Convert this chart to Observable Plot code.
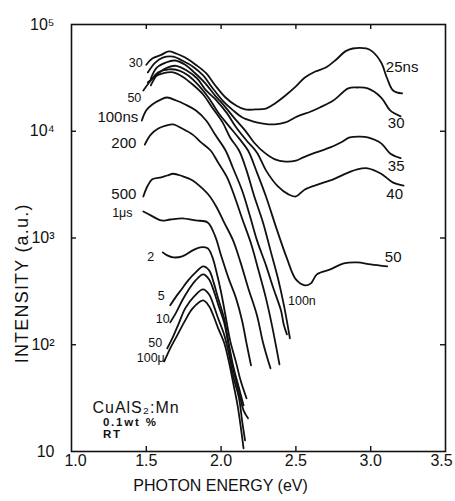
<!DOCTYPE html>
<html><head><meta charset="utf-8">
<script src="https://cdn.jsdelivr.net/npm/d3@7"></script>
<script src="https://cdn.jsdelivr.net/npm/@observablehq/plot@0.6"></script>
<style>
html,body{margin:0;padding:0;background:#fff;}
#chart{width:455px;height:501px;overflow:hidden;}
</style></head><body><div id="chart"></div>
<script>
// ---- data: photon energy (eV) and intensity (a.u.) ----
const e25ns = [1.50,1.54,1.60,1.65,1.70,1.76,1.83,1.90,1.96,2.03,2.10,2.16,2.23,2.30,2.36,2.43,2.50,2.56,2.63,2.70,2.77,2.83,2.88,2.97,3.01,3.07,3.11,3.15,3.21];
const i25ns = [4.2e4,4.8e4,5.2e4,5.6e4,5.35e4,4.9e4,4.2e4,3.5e4,2.7e4,2.07e4,1.74e4,1.6e4,1.6e4,1.63e4,1.82e4,2.16e4,2.63e4,3.19e4,3.63e4,3.95e4,4.7e4,5.6e4,5.96e4,5.96e4,5.6e4,4.4e4,3.12e4,2.41e4,2.26e4];

const e30ns = [1.51,1.56,1.61,1.68,1.74,1.81,1.88,1.94,2.01,2.08,2.14,2.21,2.28,2.36,2.43,2.51,2.60,2.66,2.75,2.85,2.91,2.98,3.07,3.13,3.20];
const i30ns = [3.56e4,4.4e4,4.9e4,5.0e4,4.6e4,4.05e4,3.33e4,2.57e4,1.94e4,1.57e4,1.35e4,1.24e4,1.18e4,1.16e4,1.21e4,1.38e4,1.53e4,1.67e4,1.94e4,2.52e4,2.57e4,2.52e4,2.07e4,1.57e4,1.38e4];

const e35ns = [1.53,1.57,1.63,1.69,1.76,1.82,1.89,1.96,2.02,2.09,2.16,2.22,2.29,2.36,2.43,2.50,2.55,2.63,2.73,2.80,2.86,2.93,2.98,3.07,3.13,3.20];
const i35ns = [3.12e4,3.95e4,4.4e4,4.6e4,4.2e4,3.56e4,2.86e4,2.16e4,1.74e4,1.32e4,1.02e4,7.85e3,6.3e3,5.45e3,5.2e3,5.3e3,5.7e3,6.3e3,7.05e3,7.85e3,8.75e3,8.9e3,8.75e3,7.7e3,6.2e3,5.6e3];

const e40ns = [1.53,1.58,1.64,1.70,1.77,1.84,1.90,1.97,2.04,2.10,2.17,2.24,2.30,2.38,2.45,2.50,2.56,2.65,2.73,2.85,2.91,2.98,3.07,3.15,3.22];
const i40ns = [2.69e4,3.48e4,3.95e4,4.1e4,3.7e4,3.12e4,2.41e4,1.94e4,1.47e4,1.09e4,8.2e3,6.3e3,4.3e3,3.04e3,2.56e3,2.45e3,2.85e3,3.18e3,3.46e3,4.1e3,4.4e3,4.5e3,4.0e3,3.3e3,3.1e3];

const e50ns = [1.48,1.53,1.58,1.65,1.72,1.78,1.85,1.92,1.98,2.05,2.12,2.18,2.24,2.30,2.37,2.44,2.50,2.56,2.60,2.64,2.73,2.82,2.91,3.00,3.11];
const i50ns = [2.41e4,2.99e4,3.56e4,3.8e4,3.7e4,3.33e4,2.69e4,2.03e4,1.5e4,1.13e4,8.57e3,6.6e3,4.1e3,2.45e3,1.23e3,644,409,360,376,456,508,578,591,566,542];

const eUnlabeled = [1.51,1.56,1.61,1.68,1.74,1.81,1.88,1.94,2.01,2.06,2.12,2.17,2.22,2.28,2.33,2.38,2.42,2.46];
const iUnlabeled = [2.86e4,3.26e4,3.48e4,3.56e4,3.26e4,2.74e4,2.21e4,1.67e4,1.21e4,8.75e3,6.6e3,4.3e3,2.5e3,1.4e3,766,419,234,115];

const e100ns = [1.47,1.50,1.54,1.60,1.64,1.70,1.76,1.83,1.90,1.96,2.03,2.08,2.14,2.19,2.24,2.30,2.35,2.40,2.42,2.44];
const i100ns = [1.26e4,1.57e4,1.78e4,1.99e4,2.07e4,1.94e4,1.78e4,1.57e4,1.26e4,9.3e3,6.6e3,4.5e3,2.8e3,1.66e3,950,554,337,210,152,125];

const e200ns = [1.49,1.53,1.58,1.63,1.68,1.74,1.81,1.86,1.93,1.98,2.04,2.09,2.14,2.20,2.25,2.30,2.34,2.37,2.39];
const i200ns = [7.5e3,9.3e3,1.06e4,1.13e4,1.16e4,1.06e4,9.3e3,8.0e3,6.6e3,5.1e3,3.7e3,2.45e3,1.53e3,889,498,272,152,92.5,65.5];

const e500ns = [1.48,1.51,1.54,1.60,1.64,1.68,1.74,1.81,1.86,1.92,1.97,2.02,2.08,2.13,2.18,2.24,2.28,2.33];
const i500ns = [2.45e3,3.1e3,3.55e3,3.7e3,3.85e3,4.0e3,3.8e3,3.46e3,3.04e3,2.5e3,1.94e3,1.4e3,950,591,344,188,105,60.1];

const e1us = [1.48,1.53,1.60,1.66,1.74,1.83,1.91,1.96,2.00,2.05,2.10,2.14,2.17,2.20];
const i1us = [1.77e3,1.63e3,1.46e3,1.49e3,1.53e3,1.46e3,1.40e3,1.04e3,687,419,272,169,103,64.1];

const e2us = [1.61,1.64,1.68,1.74,1.81,1.86,1.91,1.94,1.97,2.00,2.03,2.06,2.10,2.13,2.17];
const i2us = [733,687,658,673,766,817,800,673,476,310,185,110,68.4,46.4,31.5];

const e5us = [1.66,1.70,1.74,1.78,1.83,1.88,1.92,1.95,1.98,2.02,2.05,2.08,2.12,2.15];
const i5us = [234,284,337,401,476,542,498,384,272,177,105,64.1,39.1,27.1];

const e10us = [1.66,1.70,1.74,1.78,1.83,1.88,1.92,1.95,1.98,2.02,2.05,2.08,2.12,2.15,2.18];
const i10us = [162,201,260,323,401,456,409,323,239,162,98.6,60.1,35.8,24.3,20.5];

const e50us = [1.64,1.68,1.72,1.76,1.82,1.88,1.92,1.95,1.98,2.02,2.05,2.08,2.12,2.14,2.16];
const i50us = [92.5,120,162,219,284,330,296,234,177,125,84.9,51.6,31.5,19.6,12.7];

const e100us = [1.62,1.66,1.71,1.76,1.81,1.88,1.92,1.95,1.98,2.02,2.05,2.08,2.11,2.13,2.15];
const i100us = [69.8,92.5,125,169,219,260,229,185,143,105,71.4,44.5,27.1,17.6,10.7];

// curve labels (text, energy, intensity)
const bigLabelText   = ["25ns","30","35","40","50","100ns","200","500"];
const bigLabelEnergy = [3.21,3.17,3.17,3.16,3.15,1.31,1.35,1.35];
const bigLabelInt    = [3.95e4,1.18e4,4.67e3,2.56e3,658,1.35e4,7.7e3,2.56e3];

const smallLabelText   = ["30","50","1μs","2","5","10","50","100μ","100n"];
const smallLabelEnergy = [1.43,1.42,1.34,1.53,1.60,1.61,1.56,1.53,2.54];
const smallLabelInt    = [4.4e4,2.07e4,1.7e3,658,284,173,103,74.6,255];

// axis ticks
const xTicks = [1.0,1.5,2.0,2.5,3.0,3.5];
const xTickLabels = ["1.0","1.5","2.0","2.5","3.0","3.5"];
const xInnerTicks = [1.5,2.0,2.5,3.0];
const yTicks = [10,100,1000,10000,100000];
const yTickLabels = ["10","10²","10³","10⁴","10⁵"];
const yInnerTicks = [100,1000,10000];

// axis titles and sample annotation (energy, intensity anchors)
const xTitle = "PHOTON ENERGY (eV)";
const yTitle = "INTENSITY (a.u.)";
const yTitleAnchor = [0.672, 376];
const sampleText = ["CuAlS₂:Mn","0.1wt %","RT"];
const sampleEnergy = [1.14,1.21,1.21];
const sampleInt = [25.9,18.9,14.6];

// ---- build tables ----
const series = [
  ["25ns",e25ns,i25ns],["30ns",e30ns,i30ns],["35ns",e35ns,i35ns],["40ns",e40ns,i40ns],
  ["50ns",e50ns,i50ns],["unlabeled",eUnlabeled,iUnlabeled],["100ns",e100ns,i100ns],
  ["200ns",e200ns,i200ns],["500ns",e500ns,i500ns],["1us",e1us,i1us],["2us",e2us,i2us],
  ["5us",e5us,i5us],["10us",e10us,i10us],["50us",e50us,i50us],["100us",e100us,i100us]
];
const rows = series.flatMap(([id, xs, ys]) => xs.map((x, i) => ({id, x, y: ys[i]})));
const bigLabels = bigLabelText.map((t, i) => ({t, x: bigLabelEnergy[i], y: bigLabelInt[i]}));
const smallLabels = smallLabelText.map((t, i) => ({t, x: smallLabelEnergy[i], y: smallLabelInt[i]}));
const sample = sampleText.map((t, i) => ({t, x: sampleEnergy[i], y: sampleInt[i]}));
const xt = xTicks.map((v, i) => ({v, t: xTickLabels[i]}));
const yt = yTicks.map((v, i) => ({v, t: yTickLabels[i]}));

const W = 455, H = 501, ML = 71, MR = 10, MT = 24, MB = 50;
const FW = W - ML - MR, FH = H - MT - MB;
const ink = "#111";
const font = "'Liberation Sans', Arial, 'DejaVu Sans', sans-serif";

const chart = Plot.plot({
  width: W, height: H,
  marginLeft: ML, marginRight: MR, marginTop: MT, marginBottom: MB,
  x: {domain: [1.0, 3.5], axis: null},
  y: {type: "log", domain: [10, 1e5], axis: null},
  style: {fontFamily: font, background: "#fff", color: ink, overflow: "visible"},
  marks: [
    Plot.frame({stroke: ink, strokeWidth: 1.6}),
    Plot.ruleX(xInnerTicks, {x: d => d, insetTop: FH - 5, stroke: ink, strokeWidth: 1.4}),
    Plot.ruleX(xInnerTicks, {x: d => d, insetBottom: FH - 5, stroke: ink, strokeWidth: 1.4}),
    Plot.ruleY(yInnerTicks, {y: d => d, insetRight: FW - 5, stroke: ink, strokeWidth: 1.4}),
    Plot.ruleY(yInnerTicks, {y: d => d, insetLeft: FW - 5, stroke: ink, strokeWidth: 1.4}),
    Plot.line(rows, {x: "x", y: "y", z: "id", curve: "catmull-rom", stroke: ink, strokeWidth: 1.8, strokeLinejoin: "round", strokeLinecap: "round"}),
    Plot.text(xt.slice(0, 1), {x: "v", text: "t", frameAnchor: "bottom", dx: 4, dy: 14, fontSize: 16, fill: ink}),
    Plot.text(xt.slice(1, -1), {x: "v", text: "t", frameAnchor: "bottom", dy: 14, fontSize: 16, fill: ink}),
    Plot.text(xt.slice(-1), {x: "v", text: "t", frameAnchor: "bottom", dx: -4, dy: 14, fontSize: 16, fill: ink}),
    Plot.text(yt, {y: "v", text: "t", frameAnchor: "left", dx: -17, textAnchor: "end", fontSize: 16, fill: ink}),
    Plot.text([xTitle], {text: d => d, frameAnchor: "bottom", dx: -38, dy: 39, fontSize: 16, fill: ink}),
    Plot.text([yTitle], {x: () => yTitleAnchor[0], y: () => yTitleAnchor[1], text: d => d, rotate: -90, fontSize: 18, fill: ink}),
    Plot.text(bigLabels, {x: "x", y: "y", text: "t", fontSize: 15, fill: ink}),
    Plot.text(smallLabels, {x: "x", y: "y", text: "t", fontSize: 12.5, fill: ink}),
    Plot.text(sample.slice(0, 1), {x: "x", y: "y", text: "t", textAnchor: "start", fontSize: 16, fill: ink}),
    Plot.text(sample.slice(1), {x: "x", y: "y", text: "t", textAnchor: "start", fontSize: 11.5, fontWeight: "bold", fill: ink})
  ]
});
document.getElementById("chart").appendChild(chart);

// letter spacing tweaks to match the hand lettering widths
const spacing = {[yTitle]: "1.2px", "CuAlS₂:Mn": "1px", "0.1wt %": "1.8px", "RT": "1.8px"};
d3.select(chart).selectAll("text").each(function () {
  const s = spacing[this.textContent];
  if (s) this.style.letterSpacing = s;
});
</script>
</body></html>
